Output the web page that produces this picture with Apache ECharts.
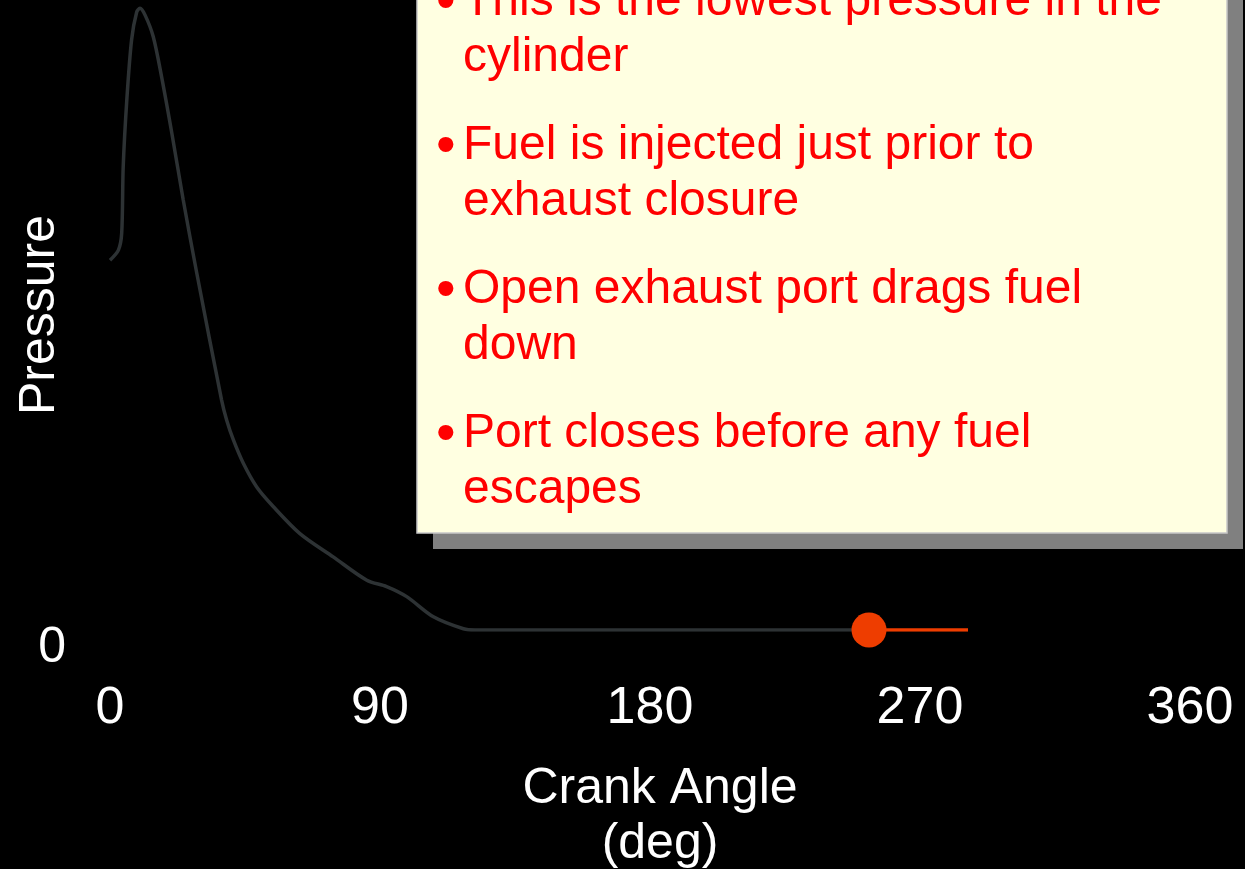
<!DOCTYPE html>
<html>
<head>
<meta charset="utf-8">
<script src="https://cdn.jsdelivr.net/npm/echarts@6/dist/echarts.min.js"></script>
<style>
html,body{margin:0;padding:0;background:#000;}
#chart{width:1245px;height:869px;}
</style>
</head>
<body>
<div id="chart"></div>
<script>
// ---- data ----
var xTicks = [0, 90, 180, 270, 360];
var yTicks = [0];
var xAxisName = 'Crank Angle\n(deg)';
var yAxisName = 'Pressure';
// crank angle (deg) and relative pressure of the cycle curve
var curveAngle = [0, 2.8, 3.9, 4.4, 5.6, 7.2, 8.9, 10, 11.7, 14.4, 17.2, 20.6, 24.4, 28.9, 37.2, 38.9, 41.1, 44.4, 48.9, 54.4, 63.3, 74.4, 85.6, 92.2, 98.9, 107.8, 117.8, 121.7, 253];
var curvePressure = [58.7, 60.3, 63.0, 73.5, 84.1, 93.7, 98.1, 98.7, 97.6, 94.2, 87.8, 78.9, 68.3, 56.7, 36.5, 33.3, 30.2, 26.5, 22.7, 19.6, 15.3, 11.6, 7.9, 6.9, 5.3, 2.1, 0.2, 0, 0];
// highlighted segment (current position marker and its extension)
var markAngle = [253, 286];
var markPressure = [0, 0];
var notes = [
  'This is the lowest pressure in the\ncylinder',
  'Fuel is injected just prior to\nexhaust closure',
  'Open exhaust port drags fuel\ndown',
  'Port closes before any fuel\nescapes'
];

// ---- build ----
var FONT = '"Liberation Sans", Arial, Helvetica, sans-serif';
var curveData = curveAngle.map(function (a, i) { return [a, curvePressure[i]]; });
var markData = markAngle.map(function (a, i) {
  return i === 0
    ? { value: [a, markPressure[i]], symbol: 'circle', symbolSize: 35 }
    : { value: [a, markPressure[i]], symbol: 'none' };
});

// note box layout
var box = { x: 417, y: -60, w: 810, h: 593 };
var shadowOff = 16;
var firstBaseline = 19, linePitch = 56, paraGap = 32, noteFont = 48;
var graphics = [
  { type: 'rect', z: 100, shape: { x: box.x + shadowOff, y: box.y + shadowOff, width: box.w, height: box.h },
    style: { fill: '#808080' } },
  { type: 'rect', z: 101, shape: { x: box.x, y: box.y, width: box.w, height: box.h },
    style: { fill: '#ffffe1', stroke: '#c8c8c8', lineWidth: 1.5 } }
];
var baseline = firstBaseline;
notes.forEach(function (t) {
  var nLines = t.split('\n').length;
  graphics.push({ type: 'text', z: 102, x: 436, y: baseline - 15,
    style: { text: '\u2022', font: '56px ' + FONT, fill: '#ff0000', verticalAlign: 'middle', align: 'left' } });
  graphics.push({ type: 'text', z: 102, x: 463, y: baseline - 17 - linePitch / 2,
    style: { text: t, font: noteFont + 'px ' + FONT, lineHeight: linePitch, fill: '#ff0000', verticalAlign: 'top', align: 'left' } });
  baseline += nLines * linePitch + paraGap;
});

var chart = echarts.init(document.getElementById('chart'), null, { renderer: 'canvas' });
chart.setOption({
  backgroundColor: '#000000',
  animation: false,
  textStyle: { fontFamily: FONT },
  grid: { left: 110, right: 55, top: 0, bottom: 239, containLabel: false, outerBoundsMode: 'none' },
  xAxis: {
    type: 'value', min: 0, max: 360, interval: 90,
    axisLine: { show: false }, axisTick: { show: false }, splitLine: { show: false },
    axisLabel: { customValues: xTicks, color: '#ffffff', fontSize: 52, lineHeight: 52, margin: 53, fontFamily: FONT },
    name: xAxisName, nameLocation: 'middle', nameGap: 132, nameMoveOverlap: false,
    nameTextStyle: { color: '#ffffff', fontSize: 50, lineHeight: 55, fontFamily: FONT, padding: [0, 0, 0, 20] }
  },
  yAxis: {
    type: 'value', min: 0, max: 100,
    axisLine: { show: false }, axisTick: { show: false }, splitLine: { show: false },
    axisLabel: { customValues: yTicks, color: '#ffffff', fontSize: 50, lineHeight: 36, verticalAlign: 'top', margin: 44, fontFamily: FONT },
    name: yAxisName, nameLocation: 'middle', nameGap: 45, nameMoveOverlap: false,
    nameTextStyle: { color: '#ffffff', fontSize: 50, fontFamily: FONT }
  },
  series: [
    { type: 'line', data: curveData, smooth: 0.3, showSymbol: false,
      lineStyle: { color: '#2d3234', width: 3.5 }, itemStyle: { color: '#2d3234' }, z: 2 },
    { type: 'line', data: markData, showSymbol: true,
      lineStyle: { color: '#ee3d00', width: 3.5 }, itemStyle: { color: '#ee3d00' }, z: 3 }
  ],
  graphic: graphics
});
</script>
</body>
</html>
